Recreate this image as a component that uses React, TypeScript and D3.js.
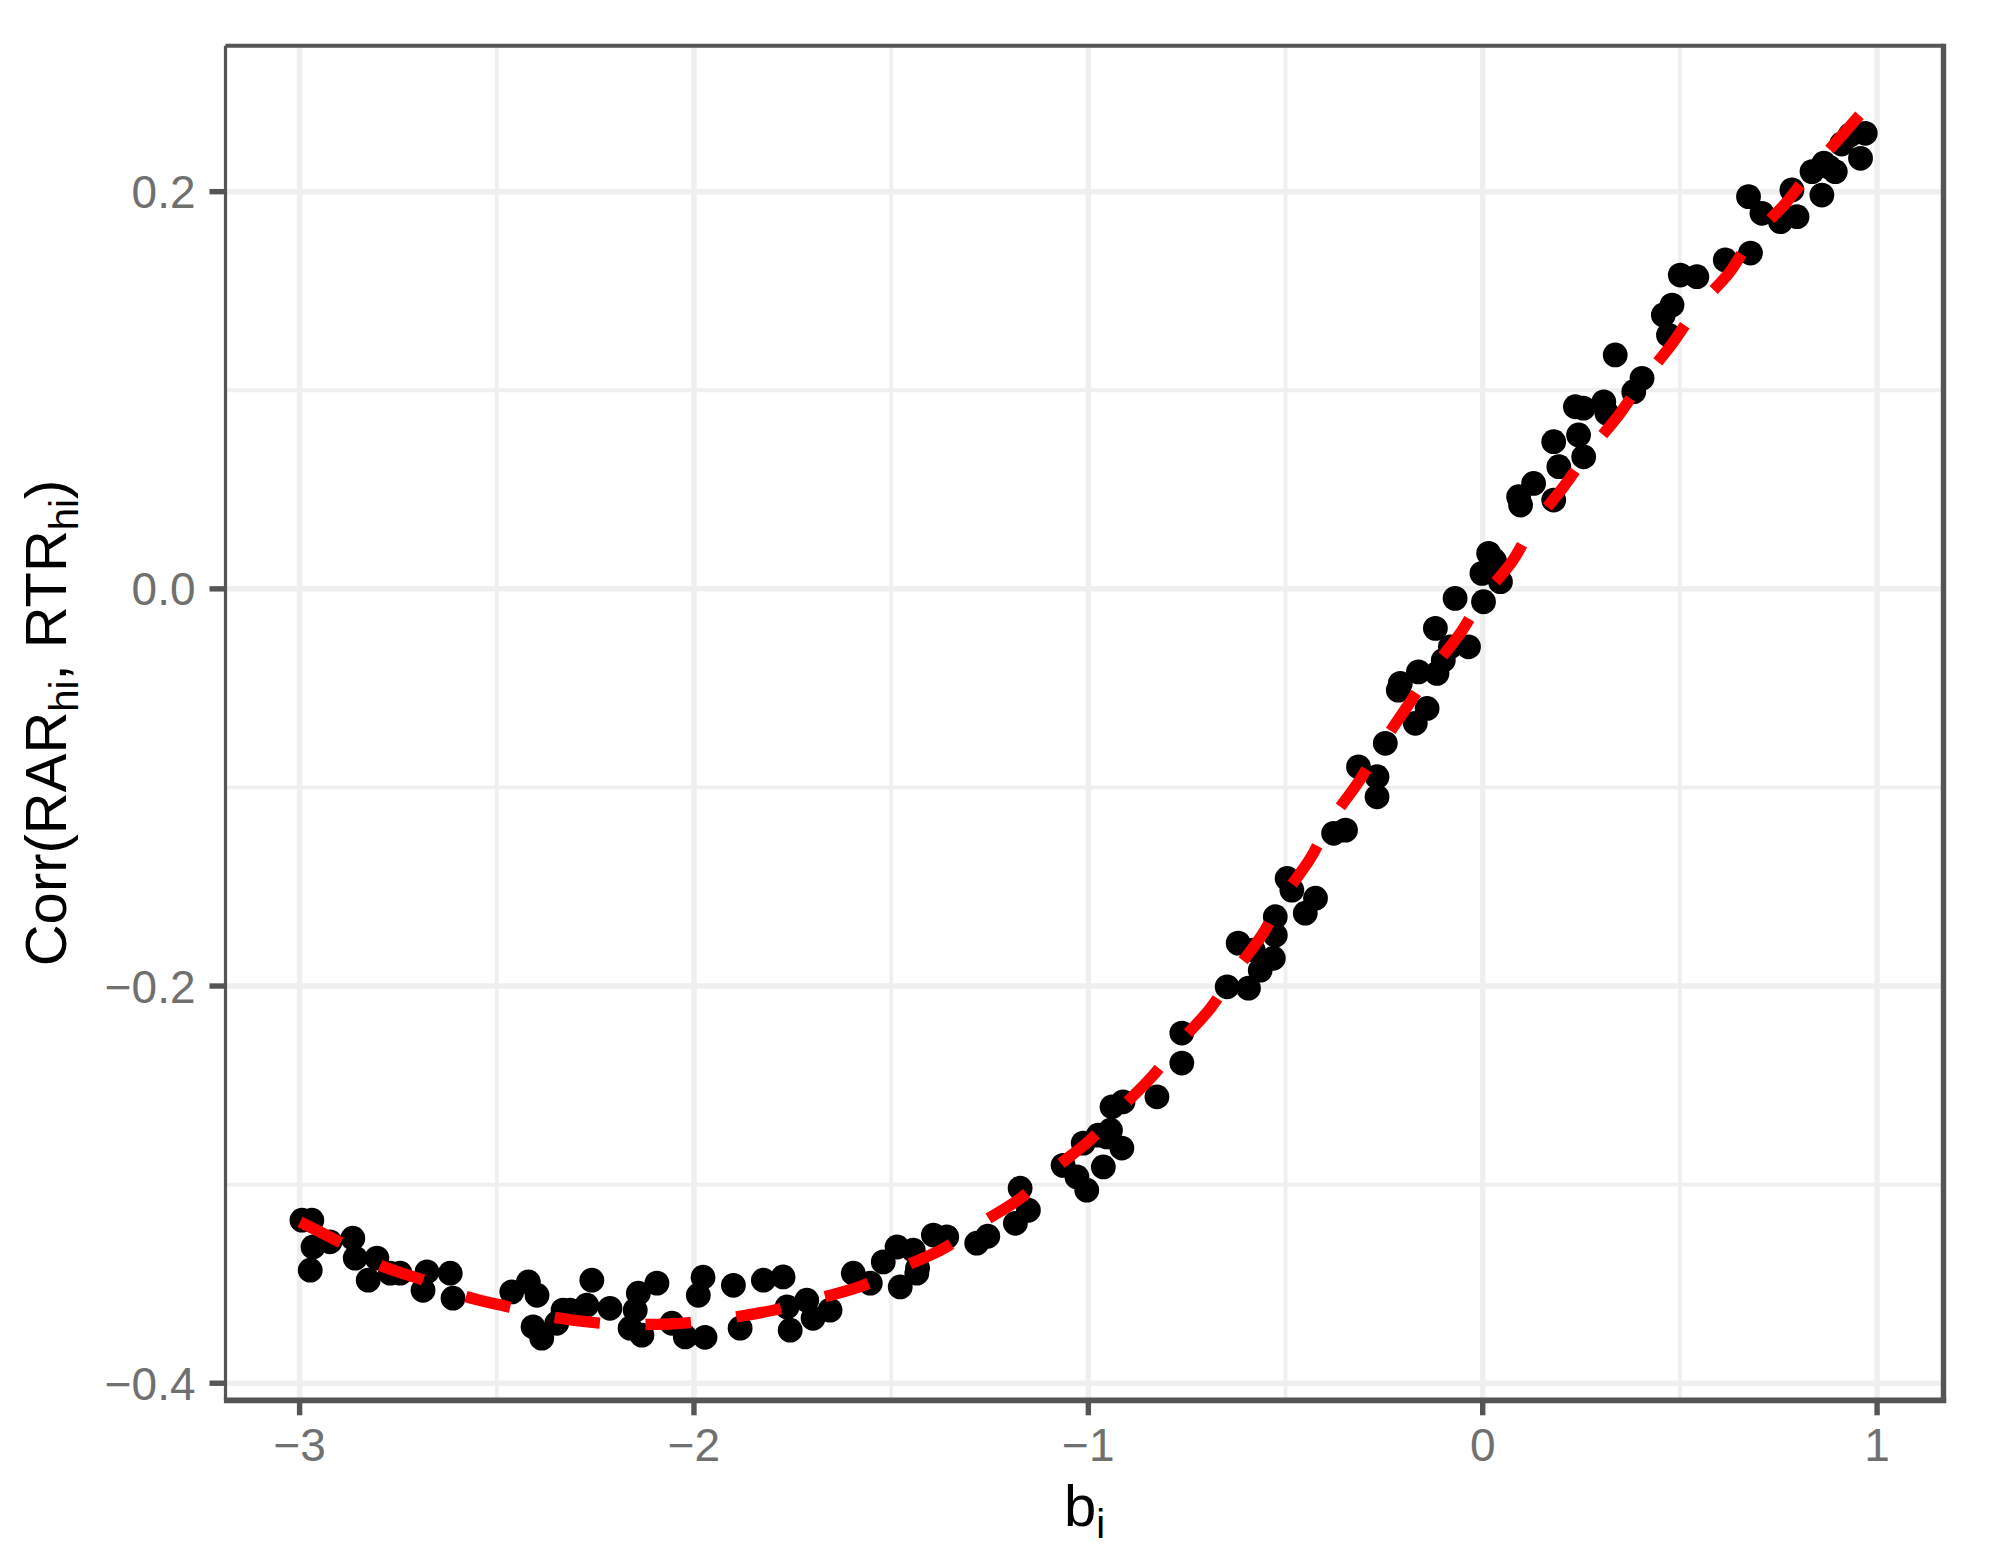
import React, { useEffect } from 'react';
import * as d3 from 'd3';

// scatter points: b_i vs Corr(RAR_hi, RTR_hi)
const bVals = [
  -2.994, -2.969, -2.966, -2.973, -2.923, -2.865, -2.859, -2.804, -2.826, -2.770, -2.745, -2.677,
  -2.687, -2.618, -2.611, -2.462, -2.420, -2.398, -2.408, -2.386, -2.348, -2.332, -2.259, -2.272,
  -2.213, -2.314, -2.094, -2.141, -2.149, -2.162, -2.132, -2.056, -2.022, -1.989, -1.977, -1.972,
  -1.900, -1.883, -1.824, -1.774, -1.764, -1.756, -1.714, -1.698, -1.655, -1.596, -1.553, -1.520,
  -1.485, -1.444, -1.477, -1.435, -1.433, -1.393, -1.359, -1.283, -1.255, -1.173, -1.152, -1.185,
  -1.064, -1.029, -1.004, -1.013, -0.962, -0.953,
  -0.975, -0.944, -0.915, -0.940, -0.912, -0.826, -0.763, -0.763, -0.648, -0.594, -0.564, -0.531,
  -0.582, -0.620, -0.526, -0.526, -0.450, -0.424, -0.496, -0.484,
  -0.378, -0.348, -0.315, -0.268, -0.268, -0.247, -0.209, -0.214, -0.171, -0.141, -0.163, -0.116,
  -0.120, -0.100, -0.082, -0.036, -0.070, 0.002, 0.045, -0.002, 0.015, 0.030,
  0.091, 0.096, 0.129, 0.180, 0.193, 0.180, 0.243, 0.256, 0.235, 0.255, 0.307, 0.315, 0.383, 0.404,
  0.336, 0.471, 0.458, 0.480, 0.501, 0.543, 0.615, 0.679,
  0.674, 0.708, 0.784, 0.797, 0.755, 0.835, 0.860, 0.894, 0.932, 0.970, 0.958, 0.865, 0.878, 0.910,
];
const corrVals = [
  -0.3179, -0.3179, -0.3314, -0.3431, -0.3288, -0.3270, -0.3370, -0.3370, -0.3481, -0.3446, -0.3446, -0.3439,
  -0.3532, -0.3446, -0.3572, -0.3540, -0.3490, -0.3557, -0.3716, -0.3773, -0.3698, -0.3632, -0.3481, -0.3607,
  -0.3623, -0.3632, -0.3496, -0.3547, -0.3632, -0.3723, -0.3758, -0.3698, -0.3767, -0.3557, -0.3466, -0.3769,
  -0.3507, -0.3723, -0.3481, -0.3465, -0.3616, -0.3733, -0.3582, -0.3673, -0.3632, -0.3446, -0.3496, -0.3389,
  -0.3314, -0.3330, -0.3515, -0.3446, -0.3420, -0.3254, -0.3263, -0.3295, -0.3260, -0.3018, -0.3129, -0.3195,
  -0.2903, -0.2961, -0.3028, -0.2791, -0.2911, -0.2760,
  -0.2751, -0.2726, -0.2816, -0.2608, -0.2583, -0.2558, -0.2388, -0.2237, -0.2004, -0.2011, -0.1920, -0.1860,
  -0.1819, -0.1784, -0.1744, -0.1651, -0.1633, -0.1558, -0.1458, -0.1517,
  -0.1231, -0.1215, -0.0896, -0.0946, -0.1047, -0.0778, -0.0476, -0.0510, -0.0677, -0.0602, -0.0418, -0.0426,
  -0.0199, -0.0360, -0.0292, -0.0292, -0.0048, -0.0065, 0.0036, 0.0078, 0.0179, 0.0142,
  0.0464, 0.0422, 0.0531, 0.0447, 0.0615, 0.0741, 0.0775, 0.0665, 0.0917, 0.0910, 0.0942, 0.0884, 0.0993, 0.1060,
  0.1178, 0.1278, 0.1379, 0.1429, 0.1580, 0.1572, 0.1656, 0.1691,
  0.1975, 0.1891, 0.2009, 0.1874, 0.1849, 0.2101, 0.1983, 0.2101, 0.2286, 0.2294, 0.2168, 0.2143, 0.2124, 0.2240,
];

// fitted curve (red dashed)
const fitB = [
  -2.999, -2.893, -2.796, -2.686, -2.580, -2.470, -2.360, -2.246, -2.132, -2.018, -1.904, -1.790,
  -1.684, -1.574, -1.469, -1.367, -1.274, -1.173, -1.088, -0.999, -0.923, -0.839, -0.767, -0.691,
  -0.628, -0.560, -0.505, -0.437, -0.387, -0.315, -0.260, -0.192, -0.133, -0.057, -0.002, 0.074,
  0.129, 0.205, 0.269, 0.345, 0.404, 0.481, 0.543, 0.624, 0.683, 0.768, 0.831, 0.912, 0.970,
];
const fitCorr = [
  -0.3188, -0.3296, -0.3406, -0.3481, -0.3562, -0.3616, -0.3666, -0.3696, -0.3704, -0.3696, -0.3669, -0.3629,
  -0.3573, -0.3510, -0.3414, -0.3322, -0.3196, -0.3070, -0.2922, -0.2781, -0.2625, -0.2457, -0.2281, -0.2113,
  -0.1928, -0.1744, -0.1551, -0.1357, -0.1173, -0.0972, -0.0795, -0.0594, -0.0418, -0.0224, -0.0048, 0.0136,
  0.0321, 0.0514, 0.0691, 0.0875, 0.1043, 0.1236, 0.1413, 0.1589, 0.1765, 0.1942, 0.2101, 0.2286, 0.2418,
];

const xTicks = [-3, -2, -1, 0, 1];
const xMinor = [-2.5, -1.5, -0.5, 0.5];
const yTicks = [-0.4, -0.2, 0, 0.2];
const yMinor = [-0.3, -0.1, 0.1];

const W = 1998;
const H = 1565;
const panel = { left: 225.5, top: 45.7, right: 1943.5, bottom: 1400.3 };
const FONT = '"Liberation Sans", Arial, Helvetica, sans-serif';
const GRID = '#efefef';
const AXIS = '#555555';

const fmt = (v: number) => {
  const s = Math.abs(v) < 1e-9 ? (Number.isInteger(v) ? '0' : '0.0') : String(v);
  return s.replace('-', '\u2212');
};

export default function App() {
  useEffect(() => {
    document.body.style.margin = '0';
  }, []);

  const x = d3.scaleLinear().domain([-3.1879, 1.1684]).range([panel.left, panel.right]);
  const y = d3.scaleLinear().domain([-0.4086, 0.2735]).range([panel.bottom, panel.top]);

  const points = bVals.map((b, i) => ({ b, c: corrVals[i] }));
  const fit = fitB.map((b, i) => ({ b, c: fitCorr[i] }));
  const line = d3.line<{ b: number; c: number }>()
    .x(d => x(d.b))
    .y(d => y(d.c))
    .curve(d3.curveCatmullRom);

  const yLabel = (v: number) => (v === 0 ? '0.0' : fmt(v));

  return (
    <svg width={W} height={H} style={{ display: 'block', background: '#fff' }}>
      <rect x={0} y={0} width={W} height={H} fill="#fff" />
      <defs>
        <clipPath id="panel-clip">
          <rect x={panel.left} y={panel.top} width={panel.right - panel.left} height={panel.bottom - panel.top} />
        </clipPath>
      </defs>

      {/* grid */}
      <g clipPath="url(#panel-clip)">
        {yMinor.map(v => (
          <line key={'ym' + v} x1={panel.left} x2={panel.right} y1={y(v)} y2={y(v)} stroke={GRID} strokeWidth={3.8} />
        ))}
        {xMinor.map(v => (
          <line key={'xm' + v} x1={x(v)} x2={x(v)} y1={panel.top} y2={panel.bottom} stroke={GRID} strokeWidth={3.8} />
        ))}
        {yTicks.map(v => (
          <line key={'yg' + v} x1={panel.left} x2={panel.right} y1={y(v)} y2={y(v)} stroke={GRID} strokeWidth={5.5} />
        ))}
        {xTicks.map(v => (
          <line key={'xg' + v} x1={x(v)} x2={x(v)} y1={panel.top} y2={panel.bottom} stroke={GRID} strokeWidth={5.5} />
        ))}

        {points.map((p, i) => (
          <circle key={i} cx={x(p.b)} cy={y(p.c)} r={12.4} fill="#000" />
        ))}

        <path
          d={line(fit) || ''}
          fill="none"
          stroke="#ff0000"
          strokeWidth={11.4}
          strokeDasharray="45.6 45.6"
          strokeLinecap="butt"
        />
      </g>

      {/* panel border */}
      <line x1={panel.left} x2={panel.right} y1={panel.top} y2={panel.top} stroke={AXIS} strokeWidth={4} />
      <line x1={panel.left} x2={panel.left} y1={panel.top} y2={panel.bottom} stroke={AXIS} strokeWidth={3.2} />
      <line x1={panel.right} x2={panel.right} y1={panel.top - 2} y2={panel.bottom + 2.8} stroke={AXIS} strokeWidth={5.4} />
      <line x1={panel.left - 1.6} x2={panel.right + 2.7} y1={panel.bottom} y2={panel.bottom} stroke={AXIS} strokeWidth={5.7} />

      {/* y axis ticks + labels */}
      {yTicks.map(v => (
        <g key={'yt' + v}>
          <line x1={panel.left - 16} x2={panel.left} y1={y(v)} y2={y(v)} stroke={AXIS} strokeWidth={5.4} />
          <text
            x={panel.left - 30}
            y={y(v) + 16.6}
            textAnchor="end"
            fontFamily={FONT}
            fontSize={46}
            fill="#707070"
          >
            {yLabel(v)}
          </text>
        </g>
      ))}

      {/* x axis ticks + labels */}
      {xTicks.map(v => (
        <g key={'xt' + v}>
          <line x1={x(v)} x2={x(v)} y1={panel.bottom} y2={panel.bottom + 15} stroke={AXIS} strokeWidth={5.4} />
          <text
            x={x(v)}
            y={1461}
            textAnchor="middle"
            fontFamily={FONT}
            fontSize={46}
            fill="#707070"
          >
            {fmt(v)}
          </text>
        </g>
      ))}

      {/* axis titles */}
      <text
        x={(panel.left + panel.right) / 2}
        y={1526}
        textAnchor="middle"
        fontFamily={FONT}
        fontSize={58}
        fill="#000"
      >
        b<tspan fontSize={40} dy={12}>i</tspan>
      </text>

      <text
        transform={`translate(66, ${(panel.top + panel.bottom) / 2}) rotate(-90)`}
        textAnchor="middle"
        fontFamily={FONT}
        fontSize={58}
        fill="#000"
      >
        Corr(RAR<tspan fontSize={40} dy={12}>hi</tspan>
        <tspan dy={-12}>, RTR</tspan>
        <tspan fontSize={40} dy={12}>hi</tspan>
        <tspan dy={-12}>)</tspan>
      </text>
    </svg>
  );
}
